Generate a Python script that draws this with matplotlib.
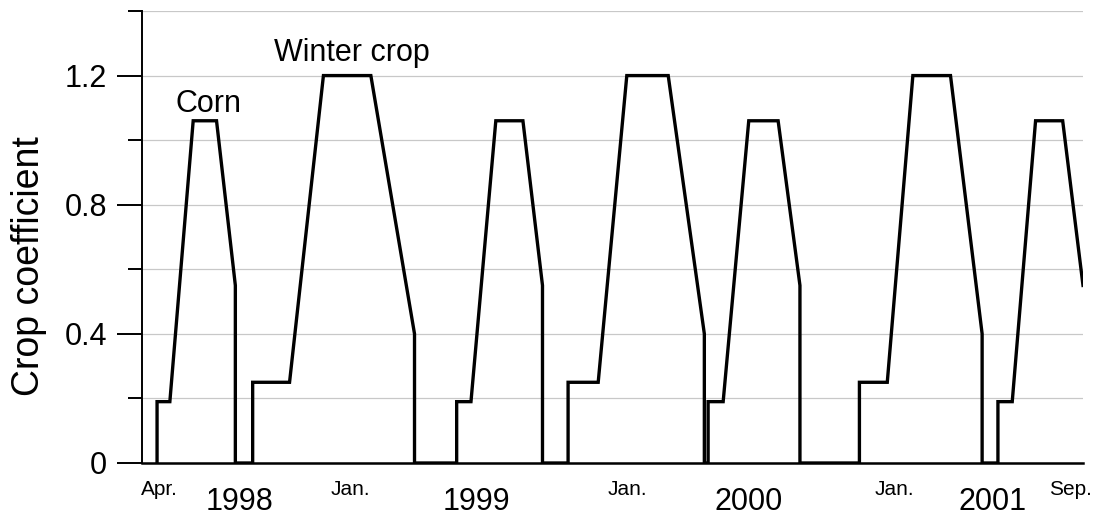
import numpy as np
import matplotlib.pyplot as plt

plt.rcParams['font.family'] = ['Liberation Sans', 'DejaVu Sans']

# crop coefficient record, x in days from start of record
days = [20, 20, 37, 68, 99, 124, 124,
        147, 147, 196, 241, 304, 362, 362,
        418, 418, 437, 470, 506, 532, 532,
        566, 566, 606, 644, 699, 747, 747,
        752, 752, 772, 806, 845, 874, 874,
        953, 953, 990, 1024, 1074, 1116, 1116,
        1137, 1137, 1156, 1187, 1223, 1250]
kc = [0, 0.19, 0.19, 1.06, 1.06, 0.55, 0,
      0, 0.25, 0.25, 1.2, 1.2, 0.40, 0,
      0, 0.19, 0.19, 1.06, 1.06, 0.55, 0,
      0, 0.25, 0.25, 1.2, 1.2, 0.40, 0,
      0, 0.19, 0.19, 1.06, 1.06, 0.55, 0,
      0, 0.25, 0.25, 1.2, 1.2, 0.40, 0,
      0, 0.19, 0.19, 1.06, 1.06, 0.55]

month_pos = [23, 277, 645, 999, 1234]
month_labels = ['Apr.', 'Jan.', 'Jan.', 'Jan.', 'Sep.']
year_pos = [129, 444, 806, 1130]
year_labels = ['1998', '1999', '2000', '2001']

W, H = 1112, 521
fig = plt.figure(figsize=(W / 100, H / 100), dpi=100)
ax = fig.add_axes([142 / W, 1 - 463 / H, (1083 - 142) / W, (463 - 11) / H])

ax.plot(days, kc, color='black', lw=2.4, solid_joinstyle='miter', zorder=3)

ax.set_xlim(0, 1250)
ax.set_ylim(0, 1.4)

ax.set_yticks([0, 0.4, 0.8, 1.2], labels=['0', '0.4', '0.8', '1.2'])
ax.set_yticks([0.2, 0.6, 1.0, 1.4], minor=True)
ax.tick_params(axis='y', which='major', length=18, width=1.4, labelsize=22, pad=7)
ax.tick_params(axis='y', which='minor', length=10, width=1.4)
ax.grid(axis='y', which='both', color='#c8c8c8', lw=0.9, zorder=0)

ax.set_xticks(month_pos, labels=month_labels)
ax.set_xticks(year_pos, labels=year_labels, minor=True)
ax.tick_params(axis='x', which='major', length=0, labelsize=15, pad=12)
ax.tick_params(axis='x', which='minor', length=0, labelsize=22, pad=17)

for s in ['top', 'right']:
    ax.spines[s].set_visible(False)
ax.spines['left'].set_linewidth(1.4)
ax.spines['bottom'].set_linewidth(1.8)

ax.text(88, 1.088, 'Corn', fontsize=22, ha='center', va='baseline')
ax.text(279, 1.244, 'Winter crop', fontsize=22, ha='center', va='baseline')

fig.text(29 / W, 1 - 266 / H, 'Crop coefficient', fontsize=27, rotation=90,
         ha='center', va='center')

fig.savefig('out.png', dpi=100)
